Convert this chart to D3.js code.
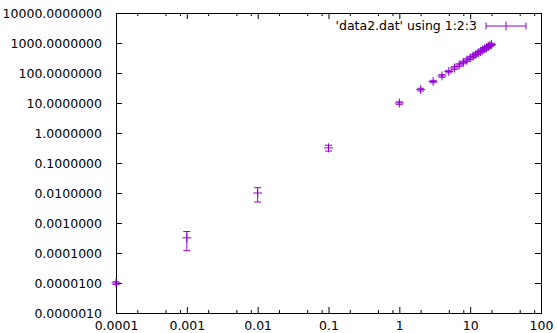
<!DOCTYPE html>
<html>
<head>
<meta charset="utf-8">
<script src="https://cdn.jsdelivr.net/npm/d3@7"></script>
<style>
  body { margin: 0; background: #fff; }
  text { font-family: "DejaVu Sans", sans-serif; font-size: 12.5px; fill: #000; }
</style>
</head>
<body>
<div id="chart"></div>
<script>
  "use strict";

  // data2.dat using 1:2:3
  var xValues = [0.0001, 0.001, 0.01, 0.1, 1, 2, 3, 4, 5, 6, 7, 8, 9, 10, 11, 12, 13, 14, 15, 16, 17, 18, 19, 20];
  var yValues = [0.00001, 0.00032, 0.01, 0.32, 10, 28, 52, 80, 112, 147, 185, 226, 270, 316, 365, 416, 469, 524, 581, 640, 701, 764, 828, 894];
  var yErrors = [0.000001, 0.0002, 0.005, 0.07, 1, 3, 5, 8, 11, 15, 18, 23, 27, 32, 36, 42, 47, 52, 58, 64, 70, 76, 83, 89];

  var xTickValues = [0.0001, 0.001, 0.01, 0.1, 1, 10, 100];
  var xTickLabels = ["0.0001", "0.001", "0.01", "0.1", "1", "10", "100"];
  var yTickValues = [0.000001, 0.00001, 0.0001, 0.001, 0.01, 0.1, 1, 10, 100, 1000, 10000];
  var yTickLabels = ["0.0000010", "0.0000100", "0.0001000", "0.0010000", "0.0100000", "0.1000000",
                     "1.0000000", "10.0000000", "100.0000000", "1000.0000000", "10000.0000000"];
  var minorSteps = [2, 5, 8];
  var legendLabel = "'data2.dat' using 1:2:3";

  var width = 557, height = 333;
  var margin = {left: 116, right: 16, top: 13, bottom: 20};
  var color = "#9400d3";
  var pointSize = 4.5, capSize = 3.5;

  var x = d3.scaleLog().domain([0.0001, 100]).range([margin.left, width - margin.right]);
  var y = d3.scaleLog().domain([0.000001, 10000]).range([height - margin.bottom, margin.top]);

  var svg = d3.select("#chart")
    .append("svg")
    .attr("width", width)
    .attr("height", height);

  // minor x ticks
  var minorTicks = [];
  xTickValues.slice(0, -1).forEach(function(v) {
    minorSteps.forEach(function(m) { minorTicks.push(v * m); });
  });

  // Axes (ticks inside, mirrored)
  var bottomAxis = d3.axisBottom(x).tickValues(xTickValues).tickSize(-6).tickPadding(8.5)
    .tickFormat(function(d, i) { return xTickLabels[i]; });
  var topAxis = d3.axisTop(x).tickValues(xTickValues).tickSize(-6).tickFormat("");
  var leftAxis = d3.axisLeft(y).tickValues(yTickValues).tickSize(-6).tickPadding(14)
    .tickFormat(function(d, i) { return yTickLabels[i]; });
  var rightAxis = d3.axisRight(y).tickValues(yTickValues).tickSize(-6).tickFormat("");
  var bottomMinor = d3.axisBottom(x).tickValues(minorTicks).tickSize(-3).tickFormat("");
  var topMinor = d3.axisTop(x).tickValues(minorTicks).tickSize(-3).tickFormat("");

  function drawAxis(axis, tx, ty) {
    var g = svg.append("g")
      .attr("transform", "translate(" + tx + "," + ty + ")")
      .call(axis);
    g.select(".domain").remove();
    g.selectAll("line").attr("stroke", "#000").attr("stroke-width", 1);
    g.selectAll("text").attr("font-family", "DejaVu Sans").attr("font-size", "12.5px");
    return g;
  }

  drawAxis(bottomAxis, 0, height - margin.bottom);
  drawAxis(topAxis, 0, margin.top);
  drawAxis(leftAxis, margin.left, 0);
  drawAxis(rightAxis, width - margin.right, 0);
  drawAxis(bottomMinor, 0, height - margin.bottom);
  drawAxis(topMinor, 0, margin.top);

  // Border
  svg.append("rect")
    .attr("x", margin.left + 0.5)
    .attr("y", margin.top + 0.5)
    .attr("width", width - margin.left - margin.right)
    .attr("height", height - margin.top - margin.bottom)
    .attr("fill", "none")
    .attr("stroke", "#000")
    .attr("stroke-width", 1);

  // Error bars + points
  var data = xValues.map(function(v, i) {
    return {x: v, y: yValues[i], e: yErrors[i]};
  });

  var marks = svg.append("g")
    .attr("stroke", color)
    .attr("stroke-width", 1)
    .attr("fill", "none");

  var pt = marks.selectAll("g")
    .data(data)
    .enter()
    .append("g")
    .attr("transform", function(d) { return "translate(" + x(d.x) + ",0)"; });

  pt.append("path")
    .attr("d", function(d) {
      var hi = y(d.y + d.e), lo = y(d.y - d.e);
      return "M0," + lo + "V" + hi +
        "M" + (-capSize) + "," + hi + "H" + capSize +
        "M" + (-capSize) + "," + lo + "H" + capSize;
    });

  pt.append("path")
    .attr("d", function(d) {
      var cy = y(d.y);
      return "M" + (-pointSize) + "," + cy + "H" + pointSize +
        "M0," + (cy - pointSize) + "V" + (cy + pointSize);
    });

  // Legend
  var ly = 26;
  svg.append("text")
    .attr("x", 477)
    .attr("y", ly)
    .attr("dy", "0.35em")
    .attr("text-anchor", "end")
    .text(legendLabel);

  var legend = svg.append("g")
    .attr("stroke", color)
    .attr("stroke-width", 1)
    .attr("fill", "none");
  legend.append("path")
    .attr("d", "M486," + ly + "H526" +
      "M486," + (ly - capSize) + "V" + (ly + capSize) +
      "M526," + (ly - capSize) + "V" + (ly + capSize) +
      "M506," + (ly - pointSize) + "V" + (ly + pointSize));
</script>
</body>
</html>
